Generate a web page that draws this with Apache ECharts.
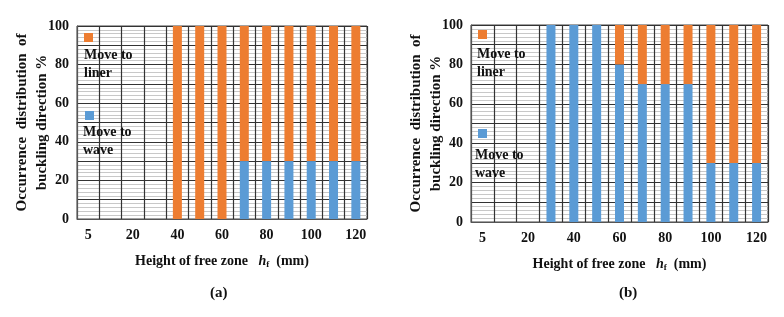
<!DOCTYPE html>
<html><head><meta charset="utf-8">
<script src="https://cdn.jsdelivr.net/npm/echarts@6/dist/echarts.min.js"></script>
<style>html,body{margin:0;padding:0;background:#fff}#c{width:784px;height:317px}</style>
</head><body><div id="c"></div>
<script>
var categories = ['5','10','20','30','40','50','60','70','80','90','100','110','120'];
var waveA  = [0,0,0,0,0,0,0,30,30,30,30,30,30];
var linerA = [0,0,0,0,100,100,100,70,70,70,70,70,70];
var waveB  = [0,0,0,100,100,100,80,70,70,70,30,30,30];
var linerB = [0,0,0,0,0,0,20,30,30,30,70,70,70];
var yTicks = [0,20,40,60,80,100];

var FONT = 'Liberation Serif';
var ORANGE = '#ED7D31', BLUE = '#5B9BD5';

function xAx(gi){
  return {
    type:'category', gridIndex:gi, data:categories, boundaryGap:true,
    axisLine:{show:true,lineStyle:{color:'#555',width:1}},
    axisTick:{show:false},
    axisLabel:{interval:1,color:'#111',fontFamily:FONT,fontSize:14,fontWeight:'bold',margin:9},
    splitLine:{show:true,interval:0,lineStyle:{color:'#333',width:1.2}},
    name:'{t|Height of free zone   }{i|h}{s|f}{t|  (mm)}',
    nameLocation:'middle', nameGap:35,
    nameTextStyle:{rich:{
      t:{fontFamily:FONT,fontSize:14,fontWeight:'bold',color:'#111'},
      i:{fontFamily:FONT,fontSize:14,fontStyle:'italic',fontWeight:'bold',color:'#111'},
      s:{fontFamily:FONT,fontSize:9,fontWeight:'bold',color:'#111',verticalAlign:'bottom',padding:[6,0,0,0]}
    }}
  };
}
function yAx(gi){
  return {
    type:'value', gridIndex:gi, min:0, max:100, interval:10,
    axisLine:{show:true,lineStyle:{color:'#555'}},
    axisTick:{show:false},
    axisLabel:{color:'#111',fontFamily:FONT,fontSize:14,fontWeight:'bold',margin:8,
      formatter:function(v){return yTicks.indexOf(v)>=0? String(v):'';}},
    splitLine:{show:true,lineStyle:{color:'#333',width:1.2}},
    minorTick:{show:false,splitNumber:5},
    minorSplitLine:{show:true,lineStyle:{color:'#c8c8c8',width:1}},
    name:'Occurrence  distribution  of\nbuckling direction %',
    nameLocation:'middle', nameGap:25, nameMoveOverlap:false,
    nameTextStyle:{fontFamily:FONT,fontSize:15,fontWeight:'bold',color:'#111',lineHeight:20}
  };
}
function legend(name, left, top){
  return {
    data:[name], left:left, top:top, orient:'vertical', padding:0,
    itemWidth:9, itemHeight:9, icon:'rect',
    formatter:function(){ return ''; },
    textStyle:{fontSize:1}
  };
}
function lbl(txt, left, top){
  return {type:'text', left:left, top:top, z:100,
    style:{text:txt, font:'bold 14px "Liberation Serif"', fill:'#111', lineHeight:18}};
}
var chart = echarts.init(document.getElementById('c'), null, {renderer:'canvas'});
chart.setOption({
  animation:false,
  backgroundColor:'#fff',
  title:[
    {text:'(a)',left:205,top:281,textStyle:{fontFamily:FONT,fontSize:15,fontWeight:'bold',color:'#111'}},
    {text:'(b)',left:614,top:281,textStyle:{fontFamily:FONT,fontSize:15,fontWeight:'bold',color:'#111'}}
  ],
  legend:[
    legend('Move to liner',84,33), legend('Move to wave',85,111),
    legend('Move to liner',478,30), legend('Move to wave',478,129)
  ],
  graphic:[
    lbl('Move to\nliner',84,46), lbl('Move to\nwave',83,123),
    lbl('Move to\nliner',477,45), lbl('Move to\nwave',475,146)
  ],
  grid:[
    {left:77,right:417,top:26,bottom:98,show:true,borderColor:'#444',borderWidth:1},
    {left:471,right:16,top:25,bottom:95,show:true,borderColor:'#444',borderWidth:1}
  ],
  xAxis:[xAx(0),xAx(1)],
  yAxis:[yAx(0),yAx(1)],
  series:[
    {name:'Move to wave',type:'bar',stack:'a',xAxisIndex:0,yAxisIndex:0,data:waveA,barWidth:9,itemStyle:{color:BLUE}},
    {name:'Move to liner',type:'bar',stack:'a',xAxisIndex:0,yAxisIndex:0,data:linerA,barWidth:9,itemStyle:{color:ORANGE}},
    {name:'Move to wave',type:'bar',stack:'b',xAxisIndex:1,yAxisIndex:1,data:waveB,barWidth:9,itemStyle:{color:BLUE}},
    {name:'Move to liner',type:'bar',stack:'b',xAxisIndex:1,yAxisIndex:1,data:linerB,barWidth:9,itemStyle:{color:ORANGE}}
  ]
});
</script></body></html>
